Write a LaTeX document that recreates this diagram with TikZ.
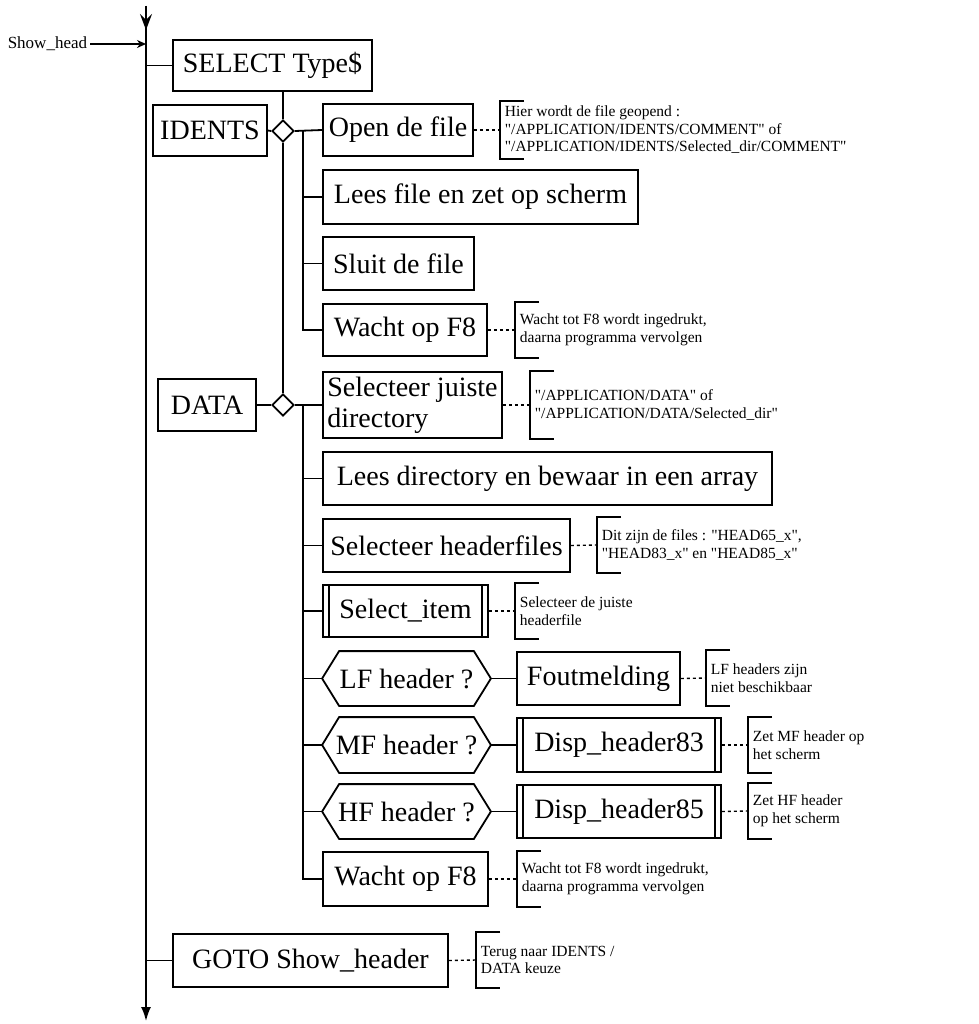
\documentclass[tikz,border=0pt]{standalone}
\usepackage{fontspec}
\setmainfont{Liberation Serif}[Ligatures=TeXOff]
\usetikzlibrary{arrows.meta,shapes.geometric}
\newcommand\boxtxt{\fontsize{28}{31}\selectfont}
\newcommand\notetxt{\fontsize{15.5}{17.5}\selectfont}
\newcommand\labtxt{\fontsize{17}{19}\selectfont}
% box node spanning the corners (x1,y1) and (x2,y2)
\newcommand\bx[7][]{\node[blk,#1,minimum width={#5-#3},minimum height={#6-#4}] (#2) at ({(#3+#5)/2},{(#4+#6)/2}) {#7};}
\begin{document}
\begin{tikzpicture}[x=1pt,y=-1pt,
  line width=1.8pt,
  blk/.style={draw, inner sep=0pt, font=\boxtxt},
  choice/.style={draw, diamond, minimum width=22pt, minimum height=22pt, inner sep=0pt},
  note/.style={anchor=west, align=left, font=\notetxt, inner xsep=4pt, inner ysep=0pt, minimum height=#1},
  note/.default=54pt,
  dotline/.style={line width=1.4pt, dash pattern=on 3pt off 3pt},
]
\useasboundingbox (0,0) rectangle (978,1024);

% main flow line and branch column
\coordinate (top) at (146,6);
\coordinate (tiptop) at (146,30);
\coordinate (bot) at (146,1021);
\coordinate (sub) at (303,0);

\node[anchor=east, font=\labtxt, inner sep=2pt] (sh) at (90,44) {Show\_head};

% blocks
\bx{sel}{173}{40}{372}{91}{SELECT Type\$}
\bx{idents}{153}{105}{267}{156}{IDENTS}
\node[choice] (di) at (283,131) {};
\bx{open}{323}{104}{473}{156}{Open de file}
\bx{lees}{323}{170}{638}{224}{Lees file en zet op scherm}
\bx{sluit}{323}{237}{474}{290}{Sluit de file}
\bx{wacht1}{323}{304}{487}{356}{Wacht op F8}

\bx{data}{158}{379}{256}{431}{DATA}
\node[choice] (dd) at (283,405) {};
\bx[align=left]{seldir}{323}{372}{502}{438}{Selecteer juiste\\directory}
\bx{ldir}{323}{452}{772}{505}{Lees directory en bewaar in een array}
\bx{selhdr}{323}{519}{570}{572}{Selecteer headerfiles}
\bx{selitem}{323}{585}{488}{637}{Select\_item}
\bx[draw=none]{lf}{323}{652}{490}{705}{LF header ?}
\bx{fout}{517}{652}{680}{705}{Foutmelding}
\bx[draw=none]{mf}{323}{718}{490}{772}{MF header ?}
\bx{disp83}{517}{718}{721}{772}{Disp\_header83}
\bx[draw=none]{hf}{323}{785}{490}{838}{HF header ?}
\bx{disp85}{517}{785}{721}{838}{Disp\_header85}
\bx{wacht2}{323}{852}{488}{906}{Wacht op F8}
\bx{goto}{173}{934}{448}{987}{GOTO Show\_header}

% comments
\node[note=56pt] (n1) at (500,130) {Hier wordt de file geopend :\\"/APPLICATION/IDENTS/COMMENT" of\\"/APPLICATION/IDENTS/Selected\_dir/COMMENT"};
\node[note] (n2) at (515,330) {Wacht tot F8 wordt ingedrukt,\\daarna programma vervolgen};
\node[note=66pt] (n3) at (530,405) {"/APPLICATION/DATA" of\\"/APPLICATION/DATA/Selected\_dir"};
\node[note] (n4) at (597,545) {Dit zijn de files : "HEAD65\_x",\\"HEAD83\_x" en "HEAD85\_x"};
\node[note] (n5) at (515,611) {Selecteer de juiste\\headerfile};
\node[note] (n6) at (706,678) {LF headers zijn\\niet beschikbaar};
\node[note] (n7) at (748,745) {Zet MF header op\\het scherm};
\node[note] (n8) at (748,811) {Zet HF header\\op het scherm};
\node[note] (n9) at (517,879) {Wacht tot F8 wordt ingedrukt,\\daarna programma vervolgen};
\node[note] (n10) at (476,960) {Terug naar IDENTS /\\DATA keuze};

% decision hexagons
\foreach \h in {lf,mf,hf}
  \draw (\h.west) -- ([xshift=17pt]\h.north west) -- ([xshift=-17pt]\h.north east)
        -- (\h.east) -- ([xshift=-17pt]\h.south east) -- ([xshift=17pt]\h.south west) -- cycle;

% subroutine bars
\foreach \s in {selitem,disp83,disp85}
  \draw ([xshift=7pt]\s.north west) -- ([xshift=7pt]\s.south west)
        ([xshift=-7pt]\s.north east) -- ([xshift=-7pt]\s.south east);

% comment brackets
\foreach \b in {n1,n2,n3,n4,n5,n6,n7,n8,n9,n10}
  \draw ([xshift=24pt]\b.north west) -| (\b.south west) -- ++(24pt,0);

% main line
\draw[-{Latex[length=14pt,width=10pt]}] (top) -- (bot);
\draw[-{Stealth[length=16pt,width=12pt,inset=6pt]}] (top) -- (tiptop);
\draw[-{Stealth[length=9pt,width=8pt]}] (sh.east) -- (sh.east -| top);
\draw (sel.west -| top) -- (sel.west);
\draw (goto.west -| top) -- (goto.west);

% selection structure
\draw (di.north |- sel.south) -- (di.north);
\draw (di.south) -- (dd.north);
\draw (idents.east) -- (di.west);
\draw (data.east) -- (dd.west);
\draw (di.east) -- (open.west);
\draw (dd.east) -- (seldir.west);
\draw (open.west -| sub) |- (wacht1.west);
\draw (seldir.west -| sub) |- (wacht2.west);
\foreach \n in {lees,sluit,ldir,selhdr,selitem,lf,mf,hf}
  \draw (\n.west -| sub) -- (\n.west);
\draw (lf.east) -- (fout.west);
\draw (mf.east) -- (disp83.west);
\draw (hf.east) -- (disp85.west);

% comment links
\foreach \a/\b in {open/n1,wacht1/n2,seldir/n3,selhdr/n4,selitem/n5,fout/n6,disp83/n7,disp85/n8,wacht2/n9,goto/n10}
  \draw[dotline] (\a.east) -- (\b.west);
\end{tikzpicture}
\end{document}
